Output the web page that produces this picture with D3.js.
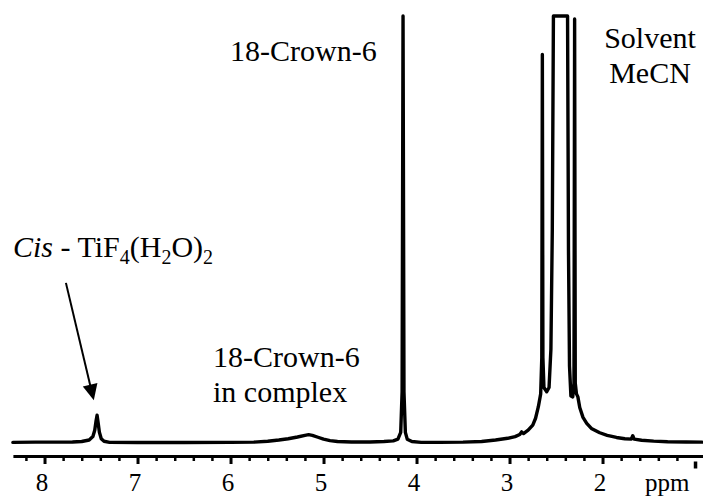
<!DOCTYPE html>
<html>
<head>
<meta charset="utf-8">
<script src="https://cdn.jsdelivr.net/npm/d3@7"></script>
<style>
  html, body { margin: 0; padding: 0; background: #fff; }
  svg { display: block; }
  text { font-family: "Liberation Serif", "Times New Roman", Times, serif; fill: #000; white-space: pre; }
</style>
</head>
<body>
<svg id="chart" width="703" height="496"></svg>
<script>
// ---- Data ----
// Chemical shift (ppm) of each sampled spectrum point, left to right
const shiftPpm = [
  8.34, 8.10, 7.90, 7.70, 7.60, 7.52, 7.48, 7.46, 7.447, 7.435, 7.425, 7.41, 7.39, 7.36, 7.30,
  7.00, 6.50, 6.00, 5.75, 5.60, 5.48, 5.38, 5.28, 5.20, 5.16, 5.12, 5.06, 5.00, 4.93, 4.85,
  4.70, 4.50, 4.35, 4.25, 4.20, 4.17, 4.155, 4.145, 4.135, 4.12, 4.10, 4.05, 3.95,
  3.75, 3.50, 3.30, 3.15, 3.02, 2.94, 2.89, 2.87, 2.85, 2.80, 2.75, 2.72, 2.69, 2.665,
  2.653, 2.647, 2.641, 2.63, 2.60, 2.575, 2.555, 2.54, 2.528, 2.515, 2.45, 2.385, 2.376,
  2.366, 2.355, 2.34, 2.32, 2.307, 2.300, 2.293, 2.28, 2.265, 2.245, 2.21, 2.17, 2.12,
  2.03, 1.95, 1.85, 1.76, 1.69, 1.675, 1.66, 1.58, 1.45, 1.30, 1.10, 0.93
];
// Relative intensity at each point (100 = top of the drawing; larger values are clipped)
const intensity = [
  0.15, 0.2, 0.2, 0.25, 0.35, 0.7, 1.5, 3.0, 5.0, 6.5, 5.0, 2.5, 1.0, 0.4, 0.15,
  0.1, 0.1, 0.15, 0.2, 0.4, 0.7, 1.0, 1.4, 1.8, 1.95, 1.8, 1.35, 0.9, 0.55, 0.35,
  0.25, 0.25, 0.35, 0.5, 0.9, 2.5, 12, 100, 12, 2.5, 0.9, 0.35, 0.15,
  0.15, 0.2, 0.35, 0.7, 1.1, 1.5, 2.0, 2.6, 2.2, 3.0, 4.2, 5.8, 8.5, 11.5,
  20, 91, 20, 13, 12, 13, 22, 50, 100, 200, 300, 200, 100,
  45, 18, 11, 10.8, 14, 99.3, 14, 11.5, 10.8, 8.3, 6.0, 4.6, 3.4,
  2.4, 1.8, 1.3, 1.0, 0.9, 1.7, 0.9, 0.65, 0.45, 0.3, 0.25, 0.2
];
// Axis tick values
const majorTicks = [8, 7, 6, 5, 4, 3, 2];
const majorLabels = ["8", "7", "6", "5", "4", "3", "2"];
const endTick = [1];
const axisUnit = "ppm";
// Annotations: text lines and anchor (ppm, intensity)
const crownLabel = ["18-Crown-6"];
const solventLabel = ["Solvent", "MeCN"];
const complexLabel = ["18-Crown-6", "in complex"];
const arrowFrom = [7.77, 37.5];
const arrowTo = [7.47, 10];

// ---- Scales ----
const svg = d3.select("#chart");
const x = d3.scaleLinear().domain([8.34, 0.925]).range([12.9, 702.5]);
const y = d3.scaleLinear().domain([0, 100]).range([443, 16]).clamp(true);

const points = shiftPpm.map((p, i) => [p, intensity[i]]);

// ---- Spectrum ----
const line = d3.line().x(d => x(d[0])).y(d => y(d[1]));
svg.append("path")
  .datum(points)
  .attr("d", line)
  .attr("fill", "none")
  .attr("stroke", "#000")
  .attr("stroke-width", 3.4)
  .attr("stroke-linejoin", "round")
  .attr("stroke-linecap", "round");

// ---- Axis ----
const axisY = 456;
const minorTicks = d3.range(1.2, 8.4, 0.2).map(v => +v.toFixed(1)).filter(v => Math.abs(v - Math.round(v)) > 0.01);

const minorAxis = svg.append("g")
  .attr("transform", `translate(0,${axisY})`)
  .call(d3.axisBottom(x).tickValues(minorTicks).tickSize(5).tickSizeOuter(0).tickFormat(""));
minorAxis.select(".domain").remove();
minorAxis.selectAll(".tick line").attr("stroke", "#000").attr("stroke-width", 2.5);

const majorAxis = svg.append("g")
  .attr("transform", `translate(0,${axisY})`)
  .call(d3.axisBottom(x).tickValues(majorTicks).tickSize(8).tickSizeOuter(0)
        .tickFormat((d, i) => majorLabels[i]));
majorAxis.select(".domain").attr("stroke", "#000").attr("stroke-width", 3.2);
majorAxis.selectAll(".tick line").attr("stroke", "#000").attr("stroke-width", 3);
majorAxis.selectAll(".tick text")
  .attr("y", 35).attr("dy", null).attr("dx", -3)
  .style("font-family", "'Liberation Serif', 'Times New Roman', serif")
  .style("font-size", "25px").attr("fill", "#000");

svg.selectAll(".endtick")
  .data(endTick).enter().append("line")
  .attr("class", "endtick")
  .attr("x1", d => x(d)).attr("x2", d => x(d))
  .attr("y1", axisY + 5.5).attr("y2", axisY + 12.5)
  .attr("stroke", "#000").attr("stroke-width", 3.5);

svg.append("text")
  .attr("x", x(1.0) - 6).attr("y", axisY + 35)
  .attr("text-anchor", "end")
  .style("font-size", "25px")
  .text(axisUnit);

// ---- Annotations ----
const fs = 30;
svg.append("text")
  .attr("x", 230).attr("y", 61)
  .style("font-size", fs + "px")
  .text(crownLabel[0]);

svg.append("g").selectAll("text")
  .data(solventLabel).enter().append("text")
  .attr("x", 650).attr("y", (d, i) => 48 + i * 34.5)
  .attr("text-anchor", "middle")
  .style("font-size", fs + "px")
  .text(d => d);

svg.append("g").selectAll("text")
  .data(complexLabel).enter().append("text")
  .attr("x", 213).attr("y", (d, i) => 366.5 + i * 35)
  .style("font-size", fs + "px")
  .text(d => d);

// Cis - TiF4(H2O)2
const cis = svg.append("text").attr("x", 13).attr("y", 257).style("font-size", fs + "px");
const subFs = 20, subDy = 7;
cis.append("tspan").style("font-style", "italic").text("Cis");
cis.append("tspan").text(" - TiF");
cis.append("tspan").style("font-size", subFs + "px").attr("dy", subDy).text("4");
cis.append("tspan").attr("dy", -subDy).text("(H");
cis.append("tspan").style("font-size", subFs + "px").attr("dy", subDy).text("2");
cis.append("tspan").attr("dy", -subDy).text("O)");
cis.append("tspan").style("font-size", subFs + "px").attr("dy", subDy).text("2");

// Arrow
const ax0 = x(arrowFrom[0]), ay0 = y(arrowFrom[1]);
const ax1 = x(arrowTo[0]), ay1 = y(arrowTo[1]);
const dx = ax1 - ax0, dy = ay1 - ay0, len = Math.hypot(dx, dy);
const ux = dx / len, uy = dy / len;
const headLen = 16, headHalf = 7.5;
const bx = ax1 - ux * headLen, by = ay1 - uy * headLen;
svg.append("line")
  .attr("x1", ax0).attr("y1", ay0).attr("x2", bx + ux * 2).attr("y2", by + uy * 2)
  .attr("stroke", "#000").attr("stroke-width", 2);
svg.append("path")
  .attr("d", `M${ax1},${ay1} L${bx - uy * headHalf},${by + ux * headHalf} L${bx + uy * headHalf},${by - ux * headHalf} Z`)
  .attr("fill", "#000");
</script>
</body>
</html>
